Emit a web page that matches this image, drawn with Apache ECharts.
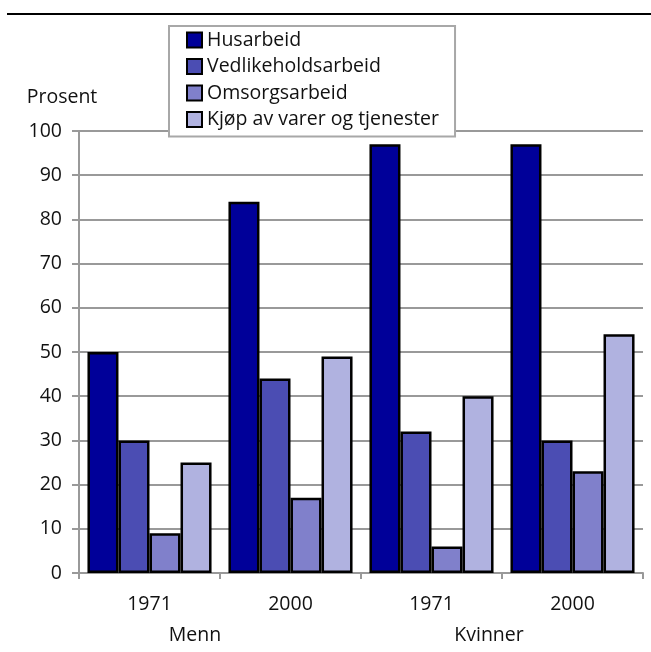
<!DOCTYPE html>
<html>
<head>
<meta charset="utf-8">
<script src="https://cdn.jsdelivr.net/npm/echarts@6/dist/echarts.min.js"></script>
<style>html,body{margin:0;padding:0;background:#fff}#c{width:651px;height:652px}</style>
</head>
<body>
<div id="c"></div>
<script>
const years = ['1971', '2000', '1971', '2000'];
const groups = ['Menn', 'Kvinner'];
const seriesNames = ['Husarbeid', 'Vedlikeholdsarbeid', 'Omsorgsarbeid', 'Kjøp av varer og tjenester'];
const husarbeid = [50, 84, 97, 97];
const vedlikehold = [30, 44, 32, 30];
const omsorg = [9, 17, 6, 23];
const kjop = [25, 49, 40, 54];
const yTicks = { min: 0, max: 100, interval: 10 };

const colors = ['#000099', '#4B4DB3', '#8080CB', '#B0B2E0'];
const values = [husarbeid, vedlikehold, omsorg, kjop];
const font = 'Open Sans';
const fs = 19.5;

const chart = echarts.init(document.getElementById('c'));
chart.setOption({
  animation: false,
  textStyle: { fontFamily: font },
  grid: { left: 79, right: 8, top: 131, bottom: 79 },
  legend: {
    orient: 'vertical',
    left: 169, top: 26,
    backgroundColor: '#fff',
    borderColor: '#a8a8a8',
    borderWidth: 2,
    padding: [4, 16, 7, 17],
    icon: 'rect',
    itemWidth: 15, itemHeight: 15,
    itemGap: 6.5,
    textStyle: { fontFamily: font, fontSize: fs, color: '#111' },
    data: seriesNames
  },
  xAxis: [{
    type: 'category',
    data: years,
    axisLine: { lineStyle: { color: '#999', width: 2 } },
    axisTick: { show: true, length: 6, lineStyle: { color: '#999', width: 2 } },
    axisLabel: { color: '#111', fontSize: fs, margin: 21, fontFamily: font }
  }, {
    type: 'category',
    data: groups,
    position: 'bottom',
    axisLine: { show: false },
    axisTick: { show: false },
    axisLabel: {
      margin: 52,
      fontFamily: font,
      fontSize: fs,
      color: '#111',
      formatter: function (v) { return v === 'Menn' ? '{a|' + v + '}' : '{b|' + v + '}'; },
      rich: {
        a: { fontFamily: font, fontSize: fs, color: '#111', padding: [0, 50, 0, 0] },
        b: { fontFamily: font, fontSize: fs, color: '#111', padding: [0, 26, 0, 0] }
      }
    }
  }],
  yAxis: {
    type: 'value',
    min: yTicks.min, max: yTicks.max, interval: yTicks.interval,
    name: 'Prosent',
    nameLocation: 'end',
    nameGap: 24,
    nameTextStyle: { fontFamily: font, fontSize: fs, color: '#111', padding: [0, 34, 0, 0] },
    axisLine: { show: true, lineStyle: { color: '#999', width: 2 } },
    axisTick: { show: true, length: 7, lineStyle: { color: '#999', width: 2 } },
    axisLabel: { color: '#111', fontSize: fs, margin: 17, fontFamily: font },
    splitLine: { show: true, lineStyle: { color: '#999', width: 2 } }
  },
  series: seriesNames.map((n, i) => ({
    name: n,
    type: 'bar',
    xAxisIndex: 0,
    data: values[i],
    barGap: '0%',
    barCategoryGap: '12%',
    itemStyle: { color: colors[i], borderColor: '#000', borderWidth: 2.5 }
  })),
  graphic: [{
    type: 'line',
    shape: { x1: 7, y1: 14, x2: 651, y2: 14 },
    style: { stroke: '#000', lineWidth: 2 }
  }]
});
</script>
</body>
</html>
